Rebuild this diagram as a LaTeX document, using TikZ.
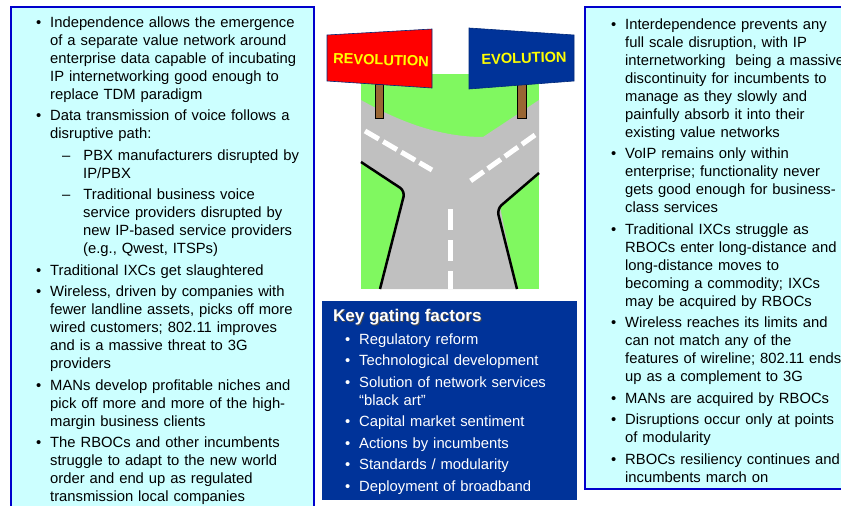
\documentclass[tikz,border=0pt]{standalone}
\usepackage{fontspec}
\setmainfont{Liberation Sans}
\usepackage{enumitem}
\usetikzlibrary{positioning}

\definecolor{paleblue}{RGB}{204,255,255}
\definecolor{boxblue}{RGB}{0,0,204}
\definecolor{navy}{RGB}{0,51,153}
\definecolor{grass}{RGB}{128,248,96}
\definecolor{asphalt}{RGB}{192,192,192}
\definecolor{post}{RGB}{153,102,51}
\definecolor{signtext}{RGB}{255,255,0}

\setlist[itemize,1]{label=\textbullet, leftmargin=13pt, labelwidth=6pt, labelsep=8pt,
    align=left, itemsep=3.5pt, topsep=0pt, parsep=0pt, partopsep=0pt}
\setlist[itemize,2]{label=\textendash, leftmargin=33pt, labelwidth=8pt, labelsep=13pt,
    align=left, itemsep=3.5pt, topsep=3.5pt, parsep=0pt, partopsep=0pt}

\begin{document}
\begin{tikzpicture}[
    x=1pt, y=-1pt,
    font=\fontsize{14.8}{18}\selectfont
]
\tikzset{
    panel/.style = {draw=boxblue, line width=2.5pt, fill=paleblue},
    listnode/.style = {anchor=north west, inner sep=0pt, align=left},
    sign/.style = {draw=navy!80!black, line width=0.6pt},
    signlabel/.style = {font=\fontsize{14.6}{16}\selectfont\bfseries, text=signtext, inner sep=0pt},
    roadedge/.style = {line width=2.5pt, black, rounded corners=6pt},
    stripe/.style = {white, line width=5pt}
}
\clip (0,0) rectangle (841,506);
\fill[white] (0,0) rectangle (841,506);

% side panels
\draw[panel] (11,7) rectangle (314,530);
\draw[panel] (585,7) rectangle (860,489);

\node[listnode, text width=290pt] at (37,9) (revlist) {%
\begin{itemize}
\item Independence allows the emergence\\ of a separate value network around\\ enterprise data capable of incubating\\ IP internetworking good enough to\\ replace TDM paradigm
\item Data transmission of voice follows a\\ disruptive path:
  \begin{itemize}
  \item PBX manufacturers disrupted by\\ IP/PBX
  \item Traditional business voice\\ service providers disrupted by\\ new IP-based service providers\\ (e.g., Qwest, ITSPs)
  \end{itemize}
\item Traditional IXCs get slaughtered
\item Wireless, driven by companies with\\ fewer landline assets, picks off more\\ wired customers; 802.11 improves\\ and is a massive threat to 3G\\ providers
\item MANs develop profitable niches and\\ pick off more and more of the high-\\ margin business clients
\item The RBOCs and other incumbents\\ struggle to adapt to the new world\\ order and end up as regulated\\ transmission local companies
\end{itemize}};

\node[listnode, text width=260pt] at (612,11) (evolist) {%
\begin{itemize}
\item Interdependence prevents any\\ full scale disruption, with IP\\ internetworking\ \ being a massive\\ discontinuity for incumbents to\\ manage as they slowly and\\ painfully absorb it into their\\ existing value networks
\item VoIP remains only within\\ enterprise; functionality never\\ gets good enough for business-\\ class services
\item Traditional IXCs struggle as\\ RBOCs enter long-distance and\\ long-distance moves to\\ becoming a commodity; IXCs\\ may be acquired by RBOCs
\item Wireless reaches its limits and\\ can not match any of the\\ features of wireline; 802.11 ends\\ up as a complement to 3G
\item MANs are acquired by RBOCs
\item Disruptions occur only at points\\ of modularity
\item RBOCs resiliency continues and\\ incumbents march on
\end{itemize}};

% the fork in the road
\fill[grass] (361,74) rectangle (539,289);
\fill[asphalt] (361,100) .. controls (400,122) and (440,137) .. (483,137)
    -- (539,100) -- (539,173) -- (500,207) -- (517,289) -- (380,289)
    -- (404,192) -- (361,162) -- cycle;
\draw[roadedge] (361,162) -- (405,191) -- (380,289);
\draw[roadedge] (539,173) -- (497,209) -- (517,289);
\draw[stripe, dash pattern=on 16pt off 5pt] (365,131) -- (432,170);
\draw[stripe, dash pattern=on 16pt off 5pt] (535,135) -- (469,182);
\draw[stripe, dash pattern=on 21pt off 10pt] (450,209) -- (450,289);

% sign posts and boards
\draw[fill=post, line width=0.8pt] (375,84) rectangle (383,118);
\draw[fill=post, line width=0.8pt] (517,84) rectangle (526,118);
\draw[sign, fill=red] (327,35) -- (432,29) -- (432,88) -- (327,81) -- cycle;
\draw[sign, fill=navy] (469,28) -- (574,35) -- (574,81) -- (469,89) -- cycle;
\node[signlabel, rotate=-1.8] at (381,60) (revsign) {REVOLUTION};
\node[signlabel, rotate=1.8] at (524,58) (evosign) {EVOLUTION};

% gating factors
\fill[navy] (322,301) rectangle (577,500);
\node[anchor=west, inner sep=0pt, font=\fontsize{17}{20}\selectfont\bfseries, text=black!70]
    at (334,318) (gateshadow) {Key gating factors};
\node[anchor=west, inner sep=0pt, font=\fontsize{17}{20}\selectfont\bfseries, text=white]
    at (333,317) (gatetitle) {Key gating factors};
\node[listnode, text width=225pt, text=white] at (346,326) (gatelist) {%
\begin{itemize}
\item Regulatory reform
\item Technological development
\item Solution of network services\\ “black art”
\item Capital market sentiment
\item Actions by incumbents
\item Standards / modularity
\item Deployment of broadband
\end{itemize}};
\end{tikzpicture}
\end{document}
